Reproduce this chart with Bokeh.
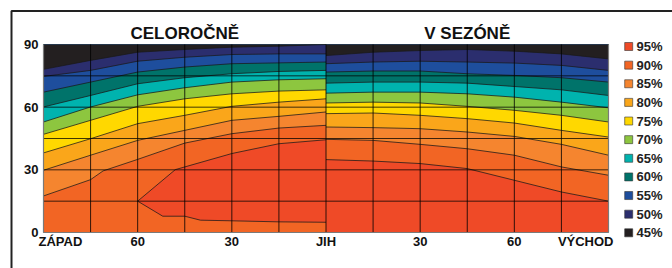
from bokeh.plotting import figure
from bokeh.models import Range1d
from bokeh.embed import file_html
from bokeh.resources import INLINE
from bokeh.core.properties import value

# ---------------- data ----------------
levels = ["95%", "90%", "85%", "80%", "75%", "70%", "65%", "60%", "55%", "50%", "45%"]
colors = ["#EF4A27", "#F26524", "#F5852F", "#FAA61A", "#FFD800", "#8DC63F",
          "#00B3AE", "#00736A", "#1E4E9D", "#2B2E6E", "#231F20"]

x_tick_pos = [-90, -60, -30, 0, 30, 60, 90]
x_tick_labels = ["ZÁPAD", "60", "30", "JIH", "30", "60", "VÝCHOD"]
y_tick_pos = [0, 30, 60, 90]
y_tick_labels = ["0", "30", "60", "90"]
grid_x = [-75, -60, -45, -30, -15, 0, 15, 30, 45, 60, 75]
grid_y = [15, 30, 45, 60, 75]
panel_titles = ["CELOROČNĚ", "V SEZÓNĚ"]
panel_centers = [-45, 45]

# left panel (celoročně): x = azimuth from west (-90) to south (0)
left_x = [-90, -75, -60, -45, -30, -15, 0]
left_50 = [78.1, 82.4, 86.3, 87.6, 88.7, 89.2, 90.0]
left_55 = [74.7, 77.6, 82.0, 83.9, 85.2, 85.5, 85.5]
left_60 = [67.2, 72.0, 76.8, 79.2, 80.8, 81.2, 81.6]
left_65 = [60.1, 65.6, 71.2, 74.1, 76.0, 77.1, 77.6]
left_70 = [52.9, 60.1, 65.9, 69.3, 72.0, 73.1, 73.6]
left_75 = [47.0, 53.7, 60.4, 64.0, 66.4, 67.7, 68.3]
left_80 = [38.1, 44.9, 52.1, 56.1, 60.4, 62.4, 64.0]
left_85 = [29.8, 37.0, 44.1, 48.9, 53.7, 55.6, 57.7]
left_90_x = [-90, -75, -71, -60, -45, -30, -15, 0]
left_90 = [17.5, 25.3, 29.5, 35.0, 42.8, 47.3, 50.0, 51.3]
left_95_top_x = [-60, -48, -30, -15, 0]
left_95_top = [15.0, 30.1, 37.8, 42.5, 44.4]
left_95_bot_x = [-60, -52, -45, -40, -30, -15, 0]
left_95_bot = [15.0, 7.8, 7.8, 5.9, 5.6, 5.1, 4.9]

# right panel (v sezóně): x = azimuth from south (0) to east (90)
right_x = [0, 15, 30, 45, 60, 75, 90]
right_50 = [84.7, 86.3, 87.1, 87.6, 86.8, 85.5, 83.1]
right_55 = [80.8, 81.6, 82.0, 81.6, 81.1, 80.0, 77.6]
right_60 = [76.8, 77.3, 77.3, 76.0, 75.2, 74.1, 72.0]
right_65 = [71.5, 72.0, 72.0, 71.5, 69.9, 68.3, 65.6]
right_70 = [66.7, 67.2, 67.2, 66.4, 64.8, 62.4, 59.7]
right_75 = [62.0, 62.4, 62.0, 60.4, 58.5, 56.1, 52.9]
right_80 = [56.9, 57.2, 56.1, 54.5, 52.4, 48.9, 45.7]
right_85 = [50.5, 50.2, 49.7, 48.1, 46.0, 42.2, 37.0]
right_90 = [44.6, 44.1, 42.2, 40.1, 37.0, 31.4, 27.4]
right_95 = [34.9, 34.2, 33.0, 30.6, 25.0, 19.4, 15.0]

# ---------------- geometry (page pixels) ----------------
W, H = 672, 268
FL, FR, FT, FB = 43, 608, 44, 232          # plot-area edges
XMIN, XMAX, YMIN, YMAX = -90, 90, 0, 90
PPX = (FR - FL) / (XMAX - XMIN)
PPY = (FB - FT) / (YMAX - YMIN)

def dx(px):
    return XMIN + (px - FL) / PPX

def dy(py):
    return YMIN + (FB - py) / PPY

FONT = "Liberation Sans"
LINE = "#1a1a1a"
TXT = "#111111"

p = figure(width=W, height=H, x_range=Range1d(dx(0), dx(W)), y_range=Range1d(dy(H), dy(0)),
           output_backend="svg", toolbar_location=None,
           x_axis_location=None, y_axis_location=None, min_border=0)
p.grid.visible = False
p.outline_line_color = None
p.background_fill_color = "white"
p.border_fill_color = "white"

def fill_above(x, y, color):
    p.varea(x=x, y1=y, y2=[YMAX] * len(y), fill_color=color)

def contour(x, y):
    p.line(x=x, y=y, line_color=LINE, line_width=0.9, line_alpha=0.85)

# left panel
fill_above([left_x[0], left_x[-1]], [YMIN, YMIN], colors[1])
left_lines = [(left_90_x, left_90), (left_x, left_85), (left_x, left_80), (left_x, left_75),
              (left_x, left_70), (left_x, left_65), (left_x, left_60), (left_x, left_55),
              (left_x, left_50)]
for i, (lx, ly) in enumerate(left_lines):
    fill_above(lx, ly, colors[i + 2])
p.patch(x=left_95_top_x + left_95_bot_x[::-1], y=left_95_top + left_95_bot[::-1],
        fill_color=colors[0], line_color=None)
for lx, ly in left_lines:
    contour(lx, ly)
contour(left_95_top_x, left_95_top)
contour(left_95_bot_x, left_95_bot)

# right panel
fill_above([right_x[0], right_x[-1]], [YMIN, YMIN], colors[0])
right_lines = [right_95, right_90, right_85, right_80, right_75, right_70,
               right_65, right_60, right_55, right_50]
for i, ry in enumerate(right_lines):
    fill_above(right_x, ry, colors[i + 1])
for ry in right_lines:
    contour(right_x, ry)

# grid lines over the fills
p.segment(x0=grid_x, y0=[YMIN] * len(grid_x), x1=grid_x, y1=[YMAX] * len(grid_x),
          line_color="#000000", line_alpha=0.8, line_width=1)
p.segment(x0=[XMIN] * len(grid_y), y0=grid_y, x1=[XMAX] * len(grid_y), y1=grid_y,
          line_color="#000000", line_alpha=0.75, line_width=1)
# plot-area outline (left, bottom, right)
p.line(x=[XMIN, XMIN, XMAX, XMAX], y=[YMAX, YMIN, YMIN, YMAX],
       line_color="#7a7a7a", line_width=1.2)

# outer frame of the picture (top and left edges)
p.line(x=[dx(11), dx(11), dx(W + 5)], y=[dy(H + 5), dy(10.5), dy(10.5)],
       line_color="#222222", line_width=2)

# y tick labels
p.text(x=[dx(FL - 5)] * len(y_tick_pos), y=y_tick_pos, text=y_tick_labels,
       text_align="right", text_baseline="middle", text_font=value(FONT),
       text_font_style="bold", text_font_size="13px", text_color=TXT)

# x tick labels
aligns = ["left"] + ["center"] * (len(x_tick_pos) - 2) + ["right"]
xlab = [dx(FL - 5)] + x_tick_pos[1:-1] + [dx(FR + 5)]
p.text(x=xlab, y=[dy(240.5)] * len(x_tick_pos), text=x_tick_labels,
       text_align=aligns, text_baseline="middle", text_font=value(FONT),
       text_font_style="bold", text_font_size="13px", text_color=TXT)

# panel titles
p.text(x=panel_centers, y=[dy(32.5)] * 2, text=panel_titles, text_align="center",
       text_baseline="middle", text_font=value(FONT), text_font_style="bold",
       text_font_size="17px", text_color=TXT)

# legend
n = len(levels)
leg_y = [dy(46.0 + 18.63 * i) for i in range(n)]
p.scatter(x=[dx(628.2)] * n, y=leg_y, marker="square", size=8,
          fill_color=colors, line_color="#333333", line_alpha=0.6, line_width=1)
p.text(x=[dx(636)] * n, y=leg_y, text=levels, text_baseline="middle",
       text_font=value(FONT), text_font_style="bold", text_font_size="13px",
       text_color="#222222")

open("out.html", "w").write(file_html(p, INLINE))
